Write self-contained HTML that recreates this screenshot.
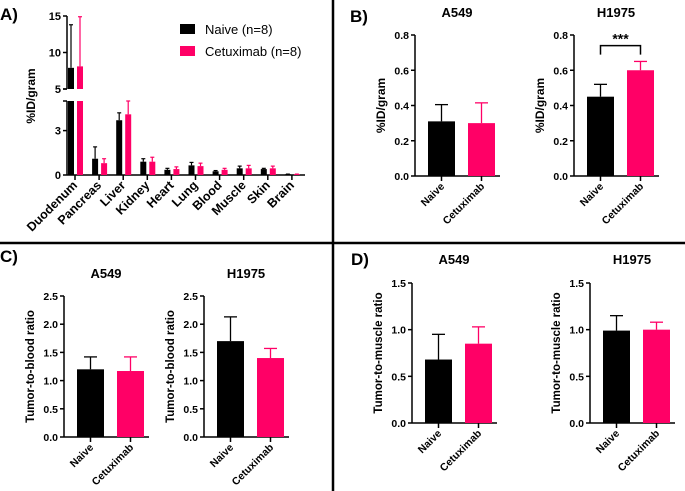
<!DOCTYPE html>
<html><head><meta charset="utf-8"><style>
body{margin:0;background:#fff}
svg{display:block;font-family:"Liberation Sans",Arial,sans-serif}
svg text{font-weight:700}
svg text.nb{font-weight:400}
</style></head><body>
<svg id="s" width="685" height="491" viewBox="0 0 685 491"></svg>
<script>
// Panel A data
const organs=["Duodenum","Pancreas","Liver","Kidney","Heart","Lung","Blood","Muscle","Skin","Brain"];
const naiveA=[7.9,1.1,3.7,0.9,0.35,0.65,0.25,0.45,0.4,0.05];
const naiveAErr=[13.8,1.9,4.2,1.1,0.45,0.85,0.3,0.6,0.45,0.06];
const cetuxA=[8.1,0.8,4.1,0.9,0.4,0.6,0.35,0.45,0.45,0.05];
const cetuxAErr=[14.9,1.1,5.0,1.2,0.55,0.8,0.45,0.65,0.6,0.06];
// Panel B-D data [naive, cetuximab]
const groups=["Naive","Cetuximab"];
const bA549=[0.31,0.30], bA549Err=[0.405,0.415];
const bH1975=[0.45,0.60], bH1975Err=[0.52,0.65];
const cA549=[1.2,1.17], cA549Err=[1.42,1.42];
const cH1975=[1.7,1.4], cH1975Err=[2.13,1.57];
const dA549=[0.68,0.85], dA549Err=[0.95,1.03];
const dH1975=[0.99,1.0], dH1975Err=[1.15,1.08];
const ticksB=["0.0","0.2","0.4","0.6","0.8"];
const ticksC=["0.0","0.5","1.0","1.5","2.0","2.5"];
const ticksD=["0.0","0.5","1.0","1.5"];
const PINK="#ff0066";
const S=document.getElementById('s');
function el(tag,attrs,parent,text){const e=document.createElementNS("http://www.w3.org/2000/svg",tag);for(const k in attrs)e.setAttribute(k,attrs[k]);if(tag==='text'&&!attrs['font-weight'])e.setAttribute('font-weight','bold');if(text!==undefined)e.textContent=text;(parent||S).appendChild(e);return e;}
function line(x1,y1,x2,y2,c,w,p){return el('line',{x1,y1,x2,y2,stroke:c||'#000','stroke-width':w||1.5},p);}

let d=line(0,243,685,243,'#000',2.5);
d=line(333,0,333,491,'#000',2.5);
[["A)",0,20],["B)",350,22],["C)",0,262],["D)",351,265]].forEach(a=>{const t=el('text',{x:a[1],y:a[2],'font-size':17},S,a[0]);});

(function(){
 const g=el('g',{});
 const ax=67, y0=175, loTop=101, upBot=89, upTop=16;
 const yLo=v=>y0-v*(y0-loTop)/5;
 const yUp=v=>upBot-(v-5)*(upBot-upTop)/10;
 const Y=v=>v<=5?yLo(v):yUp(v);
 const xt=i=>75+i*24.1;
 line(ax,upTop,ax,upBot,'#000',1.5,g);line(ax,loTop,ax,y0,'#000',1.5,g);
 line(ax-4,upBot,ax,upBot,'#000',1.5,g);line(ax-4,loTop,ax,loTop,'#000',1.5,g);
 line(ax,y0,305,y0,'#000',1.5,g);
 [[15,yUp(15)],[10,yUp(10)],[5,yUp(5)],[3,yLo(3)],[0,yLo(0)]].forEach(t=>{line(ax-4,t[1],ax,t[1],'#000',1.5,g);const tx=el('text',{x:ax-6,y:t[1]+4,'font-size':11,'text-anchor':'end'},g,t[0]);});
 const yt=el('text',{transform:'translate(35,96) rotate(-90)','font-size':12,'text-anchor':'middle'},g,'%ID/gram');
 function bar(x,v,e,c){
  if(v>5){el('rect',{x,y:loTop,width:6,height:y0-loTop,fill:c},g);el('rect',{x,y:Y(v),width:6,height:upBot-Y(v),fill:c},g);}
  else el('rect',{x,y:Y(v),width:6,height:y0-Y(v),fill:c},g);
  line(x+3,Y(v),x+3,Y(e),c,1.2,g);line(x+1,Y(e),x+5,Y(e),c,1.2,g);
 }
 organs.forEach((o,i)=>{
  const x=xt(i);
  bar(x-7,naiveA[i],naiveAErr[i],'#000');
  bar(x+2,cetuxA[i],cetuxAErr[i],PINK);
  line(x,y0,x,y0+5,'#000',1.5,g);
  const t=el('text',{transform:`translate(${x+3},${y0+11}) rotate(-45)`,'font-size':12.5,'text-anchor':'end'},g,o);
  
 });
 const l1=el('rect',{x:180,y:24,width:15,height:10,fill:'#000'},g);
 const lt1=el('text',{x:205,y:34,'font-size':13,'font-weight':'normal',class:'nb'},g,'Naive (n=8)');
 const l2=el('rect',{x:180,y:46,width:15,height:10,fill:PINK},g);
 const lt2=el('text',{x:205,y:56,'font-size':13,'font-weight':'normal',class:'nb'},g,'Cetuximab (n=8)');
})();

function small(o){
 const g=el('g',{});
 const Y=v=>o.y0-v/o.max*(o.y0-o.yTop);
 line(o.ax,o.yTop,o.ax,o.y0,'#000',1.5,g);line(o.ax,o.y0,o.ax+85,o.y0,'#000',1.5,g);
 o.ticks.forEach(t=>{const y=Y(parseFloat(t));line(o.ax-4,y,o.ax,y,'#000',1.5,g);const tx=el('text',{x:o.ax-6,y:y+4,'font-size':10.5,'text-anchor':'end'},g,t);});
 const tt=el('text',{x:o.ax+42,y:o.titleY,'font-size':13,'text-anchor':'middle'},g,o.title);
 const yt=el('text',{transform:`translate(${o.ax-30},${(o.y0+o.yTop)/2}) rotate(-90)`,'font-size':o.ytSize||12,'text-anchor':'middle'},g,o.ytitle);
 const cols=['#000',PINK];
 groups.forEach((gr,i)=>{
  const bx=o.ax+13+i*40, v=o.vals[i], e=o.errs[i], c=cols[i];
  const r=el('rect',{x:bx,y:Y(v),width:27,height:o.y0-Y(v),fill:c},g);
  line(bx+13.5,Y(v),bx+13.5,Y(e),c,1.3,g);line(bx+7,Y(e),bx+20,Y(e),c,1.3,g);
  line(bx+13.5,o.y0,bx+13.5,o.y0+5,'#000',1.5,g);
  const t=el('text',{transform:`translate(${bx+17},${o.y0+11}) rotate(-45)`,'font-size':10.5,'text-anchor':'end'},g,gr);
 });
 if(o.sig){const yb=Y(o.sig);const a=o.ax+26.5,b=o.ax+66.5;el('path',{d:`M${a},${yb+9}V${yb}H${b}V${yb+9}`,fill:'none',stroke:'#000','stroke-width':1.5},g);const st=el('text',{x:(a+b)/2,y:yb-2,'font-size':14,'text-anchor':'middle'},g,'***');}
}
small({name:'panel-b-a549',ax:415,yTop:35,y0:176,max:0.8,ticks:ticksB,vals:bA549,errs:bA549Err,title:'A549',titleY:17,ytitle:'%ID/gram'});
small({name:'panel-b-h1975',ax:574,yTop:35,y0:176,max:0.8,ticks:ticksB,vals:bH1975,errs:bH1975Err,title:'H1975',titleY:17,ytitle:'%ID/gram',sig:0.74});
small({name:'panel-c-a549',ax:64,yTop:296,y0:437,max:2.5,ticks:ticksC,vals:cA549,errs:cA549Err,title:'A549',titleY:278,ytitle:'Tumor-to-blood ratio',ytSize:11.5});
small({name:'panel-c-h1975',ax:204,yTop:296,y0:437,max:2.5,ticks:ticksC,vals:cH1975,errs:cH1975Err,title:'H1975',titleY:278,ytitle:'Tumor-to-blood ratio',ytSize:11.5});
small({name:'panel-d-a549',ax:412,yTop:283,y0:423,max:1.5,ticks:ticksD,vals:dA549,errs:dA549Err,title:'A549',titleY:264,ytitle:'Tumor-to-muscle ratio',ytSize:11.5});
small({name:'panel-d-h1975',ax:590,yTop:283,y0:423,max:1.5,ticks:ticksD,vals:dH1975,errs:dH1975Err,title:'H1975',titleY:264,ytitle:'Tumor-to-muscle ratio',ytSize:11.5});
</script>
</body></html>
